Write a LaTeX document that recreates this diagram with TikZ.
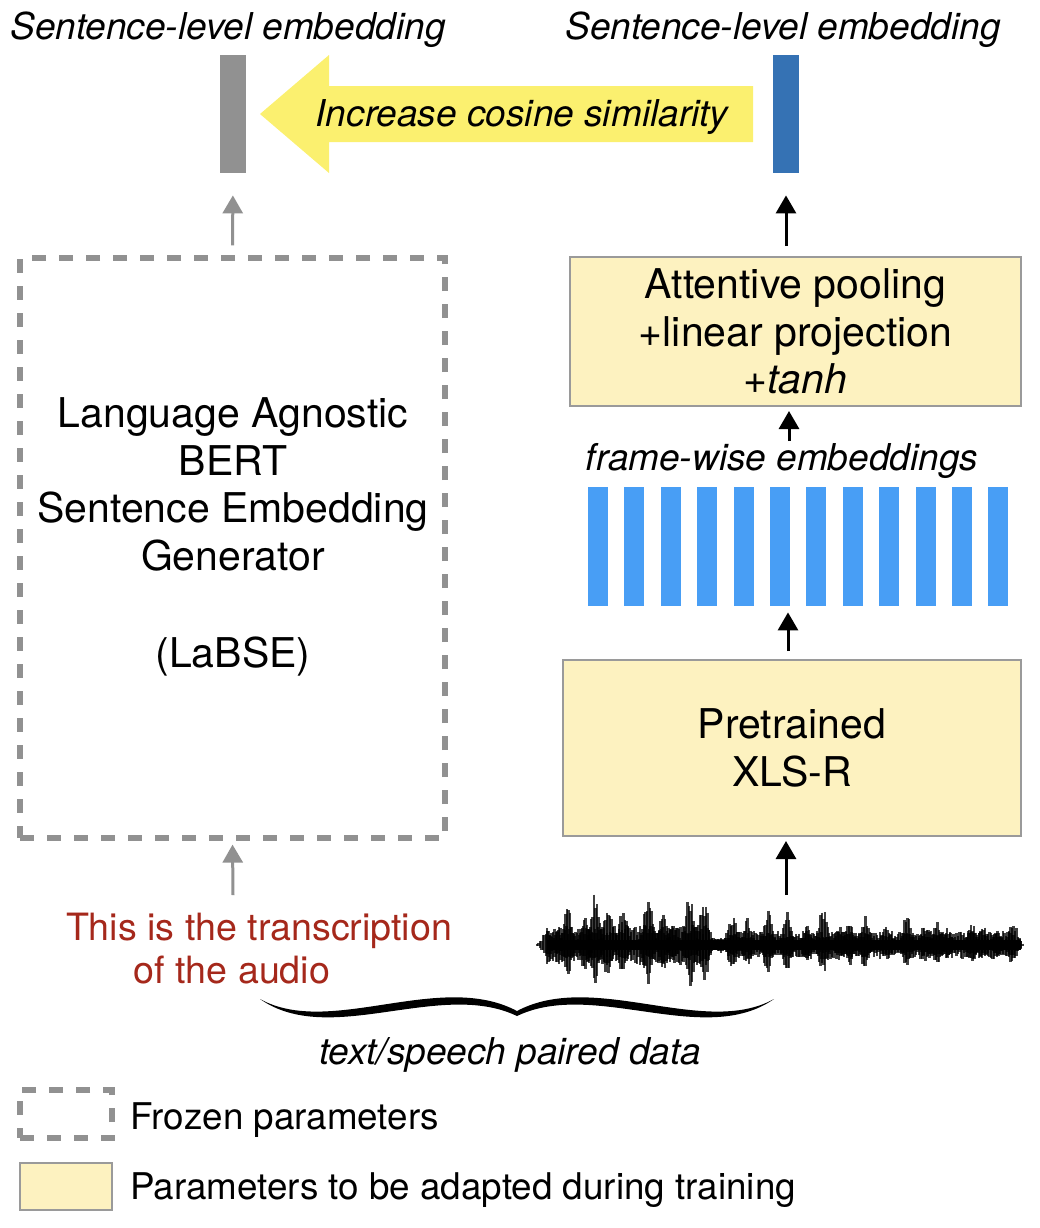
\documentclass[tikz,border=0pt]{standalone}
\usepackage{fontspec}
\setmainfont{TeX Gyre Heros}
\usetikzlibrary{positioning,arrows.meta}

\definecolor{barblue}{HTML}{489EF5}
\definecolor{embblue}{HTML}{3572B4}
\definecolor{embgray}{HTML}{919191}
\definecolor{simyellow}{HTML}{FBF06F}
\definecolor{trainyellow}{HTML}{FDF2C0}
\definecolor{edgegray}{HTML}{9A9A9A}
\definecolor{transred}{HTML}{A5281B}

\tikzset{
    boxtext/.style={align=center, font=\fontsize{20.5}{23.75}\selectfont},
    trainbox/.style={boxtext, draw=edgegray, line width=1pt, fill=trainyellow, inner sep=0pt},
    frozenbox/.style={draw=embgray, line width=2.6pt, dash pattern=on 7pt off 6.5pt, inner sep=0pt},
    embvec/.style={minimum width=13pt, minimum height=59pt, inner sep=0pt},
    fwbar/.style={fill=barblue, minimum width=10pt, minimum height=59.5pt, inner sep=0pt},
    itlabel/.style={font=\fontsize{18.5}{22}\selectfont\itshape, inner sep=0pt},
    legtext/.style={font=\fontsize{18.4}{22}\selectfont, inner sep=0pt, anchor=west},
    gflow/.style={draw=embgray, line width=1.5pt, -{Triangle[length=9pt,width=10pt]}},
    bflow/.style={draw=black, line width=1.5pt, -{Triangle[length=9pt,width=10pt]}},
    wave/.style={draw=black, line width=1.4pt, opacity=0.75},
}

\begin{document}
\begin{tikzpicture}[x=0.5pt, y=-0.5pt]
    \useasboundingbox (0,0) rectangle (1040,1228);

    % sentence embeddings
    \node [itlabel] (lemb) at (228,30) {Sentence-level embedding};
    \node [itlabel] (remb) at (783,30) {Sentence-level embedding};
    \node [embvec, fill=embgray] (gvec) at (233,114) {};
    \node [embvec, fill=embblue] (bvec) at (786,114) {};

    \fill [simyellow] (753,86) -- (329,86) -- (329,55) -- (260,114) -- (329,173) -- (329,142) -- (753,142) -- cycle;
    \node [itlabel] (simtxt) at (522,117) {Increase cosine similarity};

    % text branch
    \node [frozenbox, minimum width=212.5pt, minimum height=290pt] (labse) at (232.5,548) {};
    \node [boxtext] (labsetxt) at (233,537) {Language Agnostic\\BERT\\Sentence Embedding\\Generator\\[25pt](LaBSE)};
    \node [font=\fontsize{18.8}{20}\selectfont, text=transred, inner sep=0pt] (trans) at (259,931) {This is the transcription};
    \node [font=\fontsize{18.8}{20}\selectfont, text=transred, inner sep=0pt] (transb) at (232,970) {of the audio};
    \coordinate (txtin) at (233,895);

    % speech branch
    \node [trainbox, minimum width=225.5pt, minimum height=74.5pt] (attn) at (795.5,331.5) {Attentive pooling\\+linear projection\\+\textit{tanh}};
    \node [itlabel] (fw) at (782,461) {frame-wise embeddings};
    \foreach \i in {1,...,12}
        \node [fwbar] (f\i) at ({598+36.4*(\i-1)},546.5) {};
    \node [trainbox, minimum width=229pt, minimum height=88pt] (xlsr) at (792,748) {Pretrained\\XLS-R};

    % waveform
    \pgfmathsetseed{11}
    \fill (547,940) rectangle (1021,950);
    \foreach \wx in {547,548.5,...,1021} {
        \pgfmathsetmacro\env{\wx<710 ? 20 : (\wx<728 ? 8 : (\wx<1015 ? 14 : 6))}
        \pgfmathsetmacro\wa{\env*(0.5+0.5*rnd)}
        \pgfmathsetmacro\wb{\env*(0.5+0.5*rnd)}
        \draw [wave] (\wx,945-\wa) -- (\wx,945+\wb);
    }
    \foreach \px/\pa in {547/17,558/15,568/37,585/32,595/53,608/43,623/38,648/52,663/33,673/25,690/55,704/47,732/32,747/28,768/36,787/33,807/22,823/37,840/20,850/25,865/30,887/20,907/30,925/22,937/25,948/18,972/22,983/20,997/15,1013/25} {
        \foreach \d in {-10,-8.5,...,10} {
            \pgfmathsetmacro\wa{\pa*exp(0-(\d/6)*(\d/6))*(0.6+0.4*rnd)}
            \pgfmathsetmacro\wb{0.8*\pa*exp(0-(\d/6)*(\d/6))*(0.6+0.4*rnd)}
            \draw [wave] (\px+\d,945-\wa) -- (\px+\d,945+\wb);
        }
    }
    \coordinate (wavin) at (786,895);

    % flows
    \path
    (labse.north) edge [gflow, shorten <=5pt, shorten >=11pt] (gvec.south)
    (txtin) edge [gflow, shorten >=2pt] (labse.south)
    (attn.north -| bvec) edge [bflow, shorten <=5pt, shorten >=11pt] (bvec.south)
    ([xshift=3.5pt]fw.north) edge [bflow, shorten <=1pt, shorten >=2pt] ([xshift=3.5pt]fw.north |- attn.south)
    ([xshift=-2pt]xlsr.north) edge [bflow, shorten <=4pt, shorten >=3pt] ([xshift=-2pt]xlsr.north |- f6.south)
    (wavin) edge [bflow, shorten >=2pt] (wavin |- xlsr.south);

    % paired data
    \fill (260,999) .. controls (330,1048) and (440,979) .. (517,1016)
        .. controls (594,979) and (704,1048) .. (774,999)
        .. controls (704,1038) and (594,970) .. (517,1011)
        .. controls (440,970) and (330,1038) .. cycle;
    \node [itlabel] (pair) at (510,1055) {text/speech paired data};

    % legend
    \node [frozenbox, minimum width=46pt, minimum height=24pt] (lgf) at (66,1114) {};
    \node [legtext] (lgftxt) at (130,1120) {Frozen parameters};
    \node [trainbox, minimum width=46pt, minimum height=23.5pt] (lga) at (66,1186.5) {};
    \node [legtext] (lgatxt) at (130,1190) {Parameters to be adapted during training};
\end{tikzpicture}
\end{document}
